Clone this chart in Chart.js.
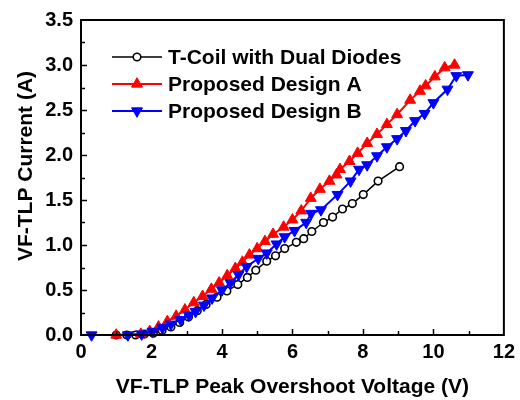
<!DOCTYPE html>
<html>
<head>
<meta charset="utf-8">
<script src="https://cdn.jsdelivr.net/npm/chart.js@4/dist/chart.umd.min.js"></script>
<style>
  html, body { margin: 0; padding: 0; background: #fff; }
  #box { width: 520px; height: 400px; }
</style>
</head>
<body>
<div id="box"><canvas id="grafico"></canvas></div>
<script>
// Valores (V em volts, I em amperes)
const seriesNames = ['T-Coil with Dual Diodes', 'Proposed Design A', 'Proposed Design B'];

const coilV = [1.0, 1.3, 1.55, 1.8, 2.05, 2.3, 2.55, 2.8, 3.05, 3.3, 3.55, 3.86, 4.14, 4.45, 4.72, 4.96, 5.27, 5.52, 5.78, 6.11, 6.32, 6.55, 6.88, 7.14, 7.42, 7.70, 8.01, 8.43, 9.04];
const coilI = [0.0, 0.0, 0.0, 0.01, 0.02, 0.05, 0.09, 0.14, 0.20, 0.27, 0.34, 0.42, 0.49, 0.56, 0.64, 0.72, 0.82, 0.88, 0.96, 1.03, 1.07, 1.15, 1.25, 1.31, 1.40, 1.46, 1.56, 1.71, 1.87];

const designAV = [1.0, 1.7, 1.95, 2.2, 2.45, 2.7, 2.95, 3.2, 3.45, 3.7, 3.92, 4.15, 4.38, 4.58, 4.78, 5.0, 5.22, 5.45, 5.75, 6.0, 6.25, 6.52, 6.78, 7.05, 7.25, 7.35, 7.62, 7.85, 8.12, 8.4, 8.68, 8.97, 9.34, 9.62, 9.78, 10.04, 10.32, 10.6];
const designAI = [0.0, 0.01, 0.04, 0.09, 0.15, 0.21, 0.28, 0.36, 0.43, 0.51, 0.58, 0.66, 0.74, 0.81, 0.89, 0.96, 1.04, 1.12, 1.20, 1.28, 1.38, 1.52, 1.62, 1.71, 1.78, 1.84, 1.93, 2.02, 2.13, 2.23, 2.34, 2.45, 2.61, 2.71, 2.77, 2.87, 2.97, 3.0];

const designBV = [0.3, 1.33, 1.72, 2.03, 2.31, 2.55, 2.83, 3.06, 3.25, 3.49, 3.72, 4.0, 4.24, 4.47, 4.7, 5.03, 5.27, 5.55, 5.78, 6.06, 6.39, 6.53, 6.81, 7.28, 7.65, 7.89, 8.12, 8.4, 8.68, 8.97, 9.22, 9.48, 9.75, 10.0, 10.4, 10.65, 10.98];
const designBI = [0.0, 0.0, 0.01, 0.04, 0.08, 0.12, 0.17, 0.22, 0.26, 0.33, 0.41, 0.50, 0.58, 0.67, 0.76, 0.85, 0.91, 1.01, 1.09, 1.16, 1.25, 1.35, 1.39, 1.56, 1.71, 1.84, 1.89, 1.99, 2.09, 2.18, 2.27, 2.38, 2.46, 2.58, 2.73, 2.88, 2.89];

const xTicks = [0, 2, 4, 6, 8, 10, 12];
const yTicks = [0.0, 0.5, 1.0, 1.5, 2.0, 2.5, 3.0, 3.5];

const xTitle = 'VF-TLP Peak Overshoot Voltage (V)';
const yTitle = 'VF-TLP Current (A)';

const FONT = '"Liberation Sans", Arial, sans-serif';

function pontos(vs, is) {
    return vs.map((v, k) => ({ x: v, y: is[k] }));
}

const estilos = [
    { borderColor: '#000000', backgroundColor: '#ffffff', borderWidth: 1.5, pointStyle: 'circle', pointRadius: 3.8, pointBorderWidth: 1.6, pointRotation: 0, order: 3 },
    { borderColor: '#ff0000', backgroundColor: '#ff0000', borderWidth: 2, pointStyle: 'triangle', pointRadius: 6.3, pointBorderWidth: 1, pointRotation: 0, order: 2 },
    { borderColor: '#0000ff', backgroundColor: '#0000ff', borderWidth: 2, pointStyle: 'triangle', pointRadius: 6.3, pointBorderWidth: 1, pointRotation: 180, order: 1 }
];

// Moldura, marcas internas, títulos dos eixos e legenda
const extras = {
    id: 'extras',
    afterDraw(chart) {
        const ctx = chart.ctx;
        const a = chart.chartArea;
        const xs = chart.scales.x;
        const ys = chart.scales.y;
        ctx.save();
        ctx.strokeStyle = '#000';
        ctx.lineWidth = 2;
        ctx.strokeRect(a.left, a.top, a.right - a.left, a.bottom - a.top);

        ctx.lineWidth = 1.5;
        ctx.beginPath();
        for (let v = 1; v < 12; v++) {
            const px = Math.round(xs.getPixelForValue(v)) + 0.5;
            const len = v % 2 === 0 ? 6 : 4;
            ctx.moveTo(px, a.bottom);
            ctx.lineTo(px, a.bottom - len);
        }
        for (let k = 1; k < 14; k++) {
            const v = k * 0.25;
            const py = Math.round(ys.getPixelForValue(v)) + 0.5;
            const len = k % 2 === 0 ? 6 : 4;
            ctx.moveTo(a.left, py);
            ctx.lineTo(a.left + len, py);
        }
        ctx.stroke();

        ctx.fillStyle = '#000';
        ctx.font = 'bold 21px ' + FONT;
        ctx.textAlign = 'center';
        ctx.textBaseline = 'middle';
        ctx.fillText(xTitle, (a.left + a.right) / 2, 387);
        ctx.save();
        ctx.translate(26, 166);
        ctx.rotate(-Math.PI / 2);
        ctx.fillText(yTitle, 0, 0);
        ctx.restore();

        // legenda
        ctx.textAlign = 'left';
        const linhas = [57, 84, 111];
        seriesNames.forEach((nome, k) => {
            const e = estilos[k];
            const y = linhas[k];
            ctx.strokeStyle = e.borderColor;
            ctx.lineWidth = e.borderWidth;
            ctx.beginPath();
            ctx.moveTo(112, y);
            ctx.lineTo(162, y);
            ctx.stroke();
            ctx.fillStyle = e.backgroundColor;
            ctx.strokeStyle = e.borderColor;
            ctx.lineWidth = e.pointBorderWidth;
            Chart.helpers.drawPoint(ctx, {
                pointStyle: e.pointStyle,
                rotation: e.pointRotation,
                radius: e.pointRadius,
                borderWidth: e.pointBorderWidth
            }, 137, y);
            ctx.fillStyle = '#000';
            ctx.fillText(nome, 168, y + 1);
        });
        ctx.restore();
    }
};

function gerarGrafico() {
    const ctx = document.getElementById('grafico').getContext('2d');
    const dados = [pontos(coilV, coilI), pontos(designAV, designAI), pontos(designBV, designBI)];

    new Chart(ctx, {
        type: 'scatter',
        data: {
            datasets: dados.map((d, k) => ({
                label: seriesNames[k],
                data: d,
                showLine: true,
                borderColor: estilos[k].borderColor,
                borderWidth: estilos[k].borderWidth,
                pointBackgroundColor: estilos[k].backgroundColor,
                pointBorderColor: estilos[k].borderColor,
                pointBorderWidth: estilos[k].pointBorderWidth,
                pointStyle: estilos[k].pointStyle,
                pointRadius: estilos[k].pointRadius,
                pointRotation: estilos[k].pointRotation,
                pointHoverRadius: estilos[k].pointRadius,
                order: estilos[k].order,
                tension: 0,
                clip: false
            }))
        },
        options: {
            responsive: true,
            maintainAspectRatio: false,
            animation: false,
            layout: { padding: { left: 0, top: 16, right: 12, bottom: 0 } },
            scales: {
                x: {
                    type: 'linear',
                    min: 0,
                    max: 12,
                    afterBuildTicks: s => { s.ticks = xTicks.map(v => ({ value: v })); },
                    afterFit: s => { s.height = 65; },
                    grid: { display: false, drawTicks: false, tickLength: 0 },
                    border: { display: false },
                    ticks: {
                        padding: 5,
                        color: '#000',
                        font: { family: FONT, size: 20, weight: 'bold' },
                        maxRotation: 0,
                        callback: v => String(v)
                    }
                },
                y: {
                    type: 'linear',
                    min: 0,
                    max: 3.5,
                    afterBuildTicks: s => { s.ticks = yTicks.map(v => ({ value: v })); },
                    afterFit: s => { s.width = 81; },
                    grid: { display: false, drawTicks: false, tickLength: 0 },
                    border: { display: false },
                    ticks: {
                        padding: 8,
                        color: '#000',
                        font: { family: FONT, size: 20, weight: 'bold' },
                        callback: v => Number(v).toFixed(1)
                    }
                }
            },
            plugins: {
                legend: { display: false },
                tooltip: { enabled: false }
            }
        },
        plugins: [extras]
    });
}

window.onload = function () {
    gerarGrafico();
};
</script>
</body>
</html>
